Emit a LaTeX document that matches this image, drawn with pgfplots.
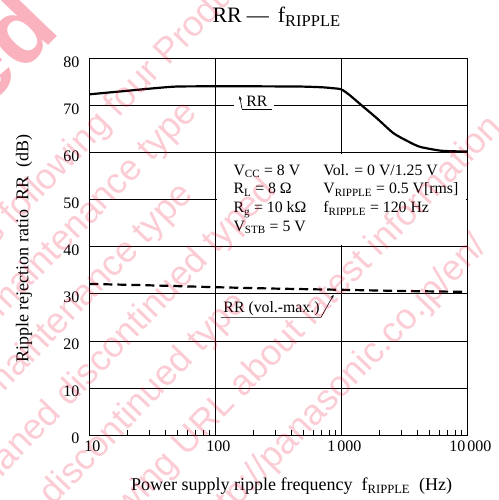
\documentclass[border=0pt]{standalone}
\usepackage{fontspec}
\setmainfont{Liberation Serif}
\newfontfamily\wmfont{Liberation Sans}
\usepackage{pgfplots}
\pgfplotsset{compat=1.18}
\usetikzlibrary{arrows.meta}
\definecolor{wmred}{RGB}{235,0,40}
\newcommand{\lab}{\fontsize{15.8bp}{18bp}\selectfont}
\tikzset{wm/.style={rotate=46, inner sep=0pt, font=\wmfont\fontsize{36bp}{40bp}\selectfont, text=wmred, text opacity=0.2}}
% #1,#2: point in picture pixels (x from left, y from top); #3 text before it, #4 text after it
\newcommand{\wmline}[4]{%
  \node[wm, anchor=mid east] at (#1, {500-(#2)}) {#3};
  \node[wm, anchor=mid west] at (#1, {500-(#2)}) {#4};}
\begin{document}
\begin{tikzpicture}
\path[use as bounding box] (0bp,0bp) rectangle (499bp,500bp);
\begin{axis}[
  at={(89.3bp,64.9bp)}, anchor=south west,
  scale only axis, width=378bp, height=376.8bp,
  xmode=log, xmin=10, xmax=10000, ymin=0, ymax=80,
  xtick={10,100,1000,10000},
  xticklabels={10,100,1\kern2bp000,10\kern2bp000},
  ytick={0,10,20,30,40,50,60,70,80},
  grid=major,
  major grid style={black, line width=0.7bp},
  axis line style={black, line width=1.2bp},
  tick align=inside,
  xtick pos=bottom, ytick pos=left,
  major tick length=0pt,
  minor tick length=5bp,
  every minor tick/.style={black, line width=0.7bp},
  /pgf/number format/assume math mode=true,
  tick label style={font=\fontsize{16bp}{18bp}\selectfont},
  yticklabel style={xshift=-6.5bp, yshift=-3.5bp},
  xticklabel style={yshift=-2.6bp, xshift=3bp},
  title={RR\hspace{5bp}—\hspace{9bp}f\raisebox{-4bp}{\fontsize{16.5bp}{17bp}\selectfont RIPPLE}},
  title style={at={(0.495,1.080)}, anchor=base, font=\fontsize{22bp}{24bp}\selectfont},
  xlabel={Power supply ripple frequency\ \ f\textsubscript{RIPPLE}\ \ (Hz)},
  xlabel style={at={(0.5354,-0.1476)}, anchor=base, font=\fontsize{18bp}{20bp}\selectfont},
  ylabel={Ripple rejection ratio\ \ RR\ \ (dB)},
  ylabel style={at={(-0.1728,0.495)}, anchor=center, font=\fontsize{18bp}{20bp}\selectfont},
]
% white areas
\fill[white] (axis cs:103,40.35) rectangle (axis cs:9800,59.65);
\fill[white] (axis cs:142,69.4) rectangle (axis cs:290,70.6);

\addplot[black, line width=2.2bp, smooth, tension=0.4] coordinates {
(10,72.35) (20,73.1) (30,73.55) (49,74.0) (100,74.05) (200,74.05) (470,74.0)
(700,73.85) (860,73.65) (1000,73.4) (1150,72.3) (1300,71.1) (1452,70.0)
(1910,67.3) (2594,64.1) (3420,62.3) (4217,61.2) (6080,60.4) (8000,60.25) (10000,60.2)
};
\addplot[black, line width=2.2bp, dash pattern=on 9bp off 5bp] coordinates {
(10,32.1) (30,31.8) (100,31.4) (300,31.1) (1000,30.85) (3000,30.6) (10000,30.4)
};

% annotations
\node[anchor=base west, inner sep=0pt, font=\lab] at (axis cs:176,69.8) {RR};
\draw[line width=0.6bp] (axis cs:163,69.2) -- (axis cs:280,69.2);
\draw[line width=0.6bp, -{Stealth[length=4bp,width=3bp]}] (axis cs:163,69.2) -- (axis cs:156,72.0);

\node[anchor=base west, inner sep=0pt, font=\lab] at (axis cs:115.7,26.0) {RR (vol.-max.)};
\draw[line width=0.6bp, -{Stealth[length=4bp,width=3bp]}] (axis cs:110.9,25.0) -- (axis cs:690,25.0) -- (axis cs:869,29.8);

\node[anchor=base west, inner sep=0pt, font=\lab] at (axis cs:139,55.14) {V\textsubscript{CC} = 8 V};
\node[anchor=base west, inner sep=0pt, font=\lab] at (axis cs:139,51.23) {R\textsubscript{L} = 8 Ω};
\node[anchor=base west, inner sep=0pt, font=\lab] at (axis cs:139,47.2) {R\textsubscript{g} = 10 kΩ};
\node[anchor=base west, inner sep=0pt, font=\lab] at (axis cs:139,43.3) {V\textsubscript{STB} = 5 V};
\node[anchor=base west, inner sep=0pt, font=\lab] at (axis cs:719,55.14) {Vol. = 0 V/1.25 V};
\node[anchor=base west, inner sep=0pt, font=\lab] at (axis cs:719,51.23) {V\textsubscript{RIPPLE} = 0.5 V[rms]};
\node[anchor=base west, inner sep=0pt, font=\lab] at (axis cs:719,47.2) {f\textsubscript{RIPPLE} = 120 Hz};
\end{axis}
% watermark
\begin{scope}[x=1bp, y=1bp]
\node[wm, anchor=mid east, text opacity=0.3, font=\wmfont\bfseries\fontsize{95bp}{100bp}\selectfont] at (60,470) {Maintenance/Discontinued};
\wmline{6}{232}{includes}{\ following four Product lifecycle stage.}
\wmline{197}{112}{planed maintenance type}{}
\wmline{-5}{399}{}{maintenance type}
\wmline{-14.5}{491}{}{planed discontinued typed}
\wmline{52}{505}{}{discontinued type}
\wmline{178}{463}{Please visit following}{\ URL about latest information.}
\wmline{271}{470}{http://}{panasonic.co.jp/en/}
\end{scope}
\end{tikzpicture}
\end{document}
